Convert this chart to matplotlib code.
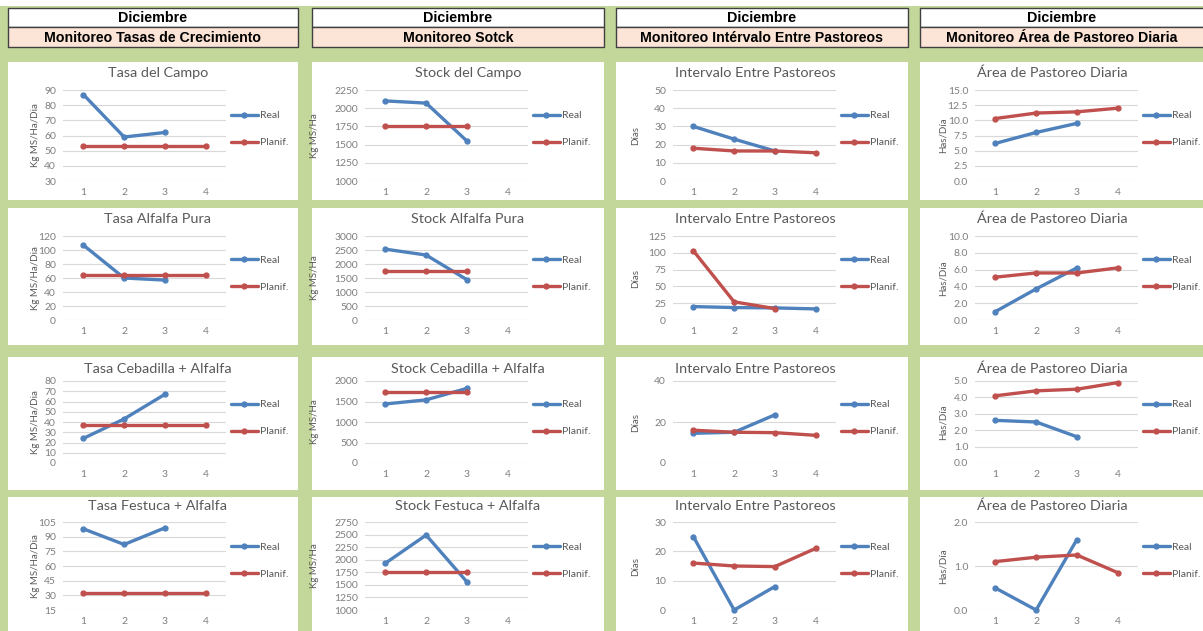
import matplotlib.pyplot as plt
from matplotlib.patches import Rectangle

W, H = 1203, 631
GREEN = '#c4d79b'
PEACH = '#fce4d6'
BLUE = '#4f81bd'
RED = '#c0504d'
GRAY = '#595959'

semanas = [1, 2, 3, 4]

meses = ['Diciembre'] * 4
encabezados = ['Monitoreo Tasas de Crecimiento', 'Monitoreo Sotck',
               'Monitoreo Intérvalo Entre Pastoreos', 'Monitoreo Área de Pastoreo Diaria']

# columna 1: tasas de crecimiento
tasa_campo_real = [87, 59, 62]
tasa_campo_plan = [53, 53, 53, 53]
tasa_alfalfa_real = [107, 60, 57]
tasa_alfalfa_plan = [65, 65, 65, 65]
tasa_cebadilla_real = [24, 43, 67]
tasa_cebadilla_plan = [37, 37, 37, 37]
tasa_festuca_real = [98, 82, 99]
tasa_festuca_plan = [32, 32, 32, 32]

# columna 2: stock
stock_campo_real = [2100, 2070, 1550]
stock_campo_plan = [1750, 1750, 1750]
stock_alfalfa_real = [2530, 2320, 1440]
stock_alfalfa_plan = [1750, 1750, 1750]
stock_cebadilla_real = [1440, 1540, 1820]
stock_cebadilla_plan = [1740, 1740, 1740]
stock_festuca_real = [1930, 2490, 1560]
stock_festuca_plan = [1760, 1760, 1760]

# columna 3: intervalo entre pastoreos
int_1_real = [30, 23, 16.5]
int_1_plan = [18, 16.5, 16.5, 15.5]
int_2_real = [20, 18.5, 18, 16.5]
int_2_plan = [103, 27, 17]
int_3_real = [14.5, 15, 23.5]
int_3_plan = [16, 15, 14.8, 13.5]
int_4_real = [25, 0, 8]
int_4_plan = [16, 15, 14.8, 21]

# columna 4: area de pastoreo diaria
area_1_real = [6.2, 8.0, 9.5]
area_1_plan = [10.3, 11.2, 11.4, 12.0]
area_2_real = [1.0, 3.7, 6.2]
area_2_plan = [5.1, 5.6, 5.6, 6.2]
area_3_real = [2.6, 2.5, 1.6]
area_3_plan = [4.1, 4.4, 4.5, 4.9]
area_4_real = [0.5, 0.0, 1.6]
area_4_plan = [1.1, 1.2, 1.25, 0.85]

# (col, fila, titulo, ylabel, real, plan, ymin, ymax, paso, formato)
paneles = [
    (0, 0, 'Tasa del Campo', 'Kg MS/Ha/Dia', tasa_campo_real, tasa_campo_plan, 30, 90, 10, '{:.0f}'),
    (0, 1, 'Tasa Alfalfa Pura', 'Kg MS/Ha/Dia', tasa_alfalfa_real, tasa_alfalfa_plan, 0, 120, 20, '{:.0f}'),
    (0, 2, 'Tasa Cebadilla + Alfalfa', 'Kg MS/Ha/Dia', tasa_cebadilla_real, tasa_cebadilla_plan, 0, 80, 10, '{:.0f}'),
    (0, 3, 'Tasa Festuca + Alfalfa', 'Kg MS/Ha/Dia', tasa_festuca_real, tasa_festuca_plan, 15, 105, 15, '{:.0f}'),
    (1, 0, 'Stock del Campo', 'Kg MS/Ha', stock_campo_real, stock_campo_plan, 1000, 2250, 250, '{:.0f}'),
    (1, 1, 'Stock Alfalfa Pura', 'Kg MS/Ha', stock_alfalfa_real, stock_alfalfa_plan, 0, 3000, 500, '{:.0f}'),
    (1, 2, 'Stock Cebadilla + Alfalfa', 'Kg MS/Ha', stock_cebadilla_real, stock_cebadilla_plan, 0, 2000, 500, '{:.0f}'),
    (1, 3, 'Stock Festuca + Alfalfa', 'Kg MS/Ha', stock_festuca_real, stock_festuca_plan, 1000, 2750, 250, '{:.0f}'),
    (2, 0, 'Intervalo Entre Pastoreos', 'Días', int_1_real, int_1_plan, 0, 50, 10, '{:.0f}'),
    (2, 1, 'Intervalo Entre Pastoreos', 'Días', int_2_real, int_2_plan, 0, 125, 25, '{:.0f}'),
    (2, 2, 'Intervalo Entre Pastoreos', 'Días', int_3_real, int_3_plan, 0, 40, 20, '{:.0f}'),
    (2, 3, 'Intervalo Entre Pastoreos', 'Días', int_4_real, int_4_plan, 0, 30, 10, '{:.0f}'),
    (3, 0, 'Área de Pastoreo Diaria', 'Has/Día', area_1_real, area_1_plan, 0, 15, 2.5, '{:.1f}'),
    (3, 1, 'Área de Pastoreo Diaria', 'Has/Día', area_2_real, area_2_plan, 0, 10, 2, '{:.1f}'),
    (3, 2, 'Área de Pastoreo Diaria', 'Has/Día', area_3_real, area_3_plan, 0, 5, 1, '{:.1f}'),
    (3, 3, 'Área de Pastoreo Diaria', 'Has/Día', area_4_real, area_4_plan, 0, 2, 1, '{:.1f}'),
]

# geometria en pixeles
col_x0 = [8, 312, 616, 920]
col_x1 = [298, 604, 908, 1210]
fila_y0 = [62, 208, 357, 497]
fila_y1 = [200, 345, 490, 640]
plot_x0 = [63, 365, 673, 975]
plot_top = [90, 236, 381, 522]
plot_bot = [181, 320, 463, 610]
titulo_x = [158, 468, 755, 1052]
titulo_y = [73, 219, 369, 506]
ylabel_x = [-0.14, -0.28, -0.2, -0.17]
plot_w = 163

plt.rcParams['font.family'] = ['Lato', 'DejaVu Sans']

fig = plt.figure(figsize=(W / 100, H / 100), dpi=100, facecolor=GREEN)


def caja(x0, y0, x1, y1, **kw):
    fig.patches.append(Rectangle((x0 / W, 1 - y1 / H), (x1 - x0) / W, (y1 - y0) / H,
                                 transform=fig.transFigure, figure=fig, zorder=-5, **kw))


caja(0, 0, W, 6, facecolor='white', edgecolor='none')

for c in range(4):
    x0, x1 = col_x0[c], col_x1[c]
    caja(x0, 8, x1, 27, facecolor='white', edgecolor='#404040', lw=1)
    caja(x0, 27, x1, 47, facecolor=PEACH, edgecolor='#404040', lw=1)
    xc = (x0 + min(x1, W)) / 2
    fig.text(xc / W, 1 - 17.5 / H, meses[c], ha='center', va='center',
             fontsize=10.3, fontweight='bold', family='Liberation Sans', color='black')
    fig.text(xc / W, 1 - 37.5 / H, encabezados[c], ha='center', va='center',
             fontsize=10.2, fontweight='bold', family='Liberation Sans', color='black')
    for r in range(4):
        caja(x0, fila_y0[r], x1, fila_y1[r], facecolor='white', edgecolor='none')

for c, r, titulo, ylab, real, plan, ymin, ymax, paso, fmt in paneles:
    top, bot = plot_top[r], plot_bot[r]
    ax = fig.add_axes([plot_x0[c] / W, 1 - bot / H, plot_w / W, (bot - top) / H])
    ax.set_facecolor('none')
    ax.plot(semanas[:len(real)], real, color=BLUE, lw=2.4, marker='o', ms=3.5, label='Real',
            solid_capstyle='round', clip_on=False)
    ax.plot(semanas[:len(plan)], plan, color=RED, lw=2.4, marker='o', ms=3.5, label='Planif.',
            solid_capstyle='round', clip_on=False)
    ax.set_xlim(0.5, 4.5)
    ax.set_ylim(ymin, ymax)
    ticks = []
    v = ymin
    while v <= ymax + 1e-9:
        ticks.append(v)
        v += paso
    ax.set_yticks(ticks)
    ax.set_yticklabels([fmt.format(t) for t in ticks])
    ax.set_xticks(semanas)
    ax.grid(axis='y', color='#d9d9d9', lw=0.8)
    ax.set_axisbelow(True)
    for s in ax.spines.values():
        s.set_visible(False)
    ax.tick_params(length=0, labelsize=7.5, colors='#7f7f7f', pad=5)
    ax.set_ylabel(ylab, fontsize=7, color=GRAY)
    ax.yaxis.set_label_coords(ylabel_x[c], 0.5)
    fig.text(titulo_x[c] / W, 1 - titulo_y[r] / H, titulo, ha='center', va='center',
             fontsize=10.4, color=GRAY)
    ax.legend(loc='upper left', bbox_to_anchor=(1.03, 0.77), frameon=False, fontsize=7.5,
              handlelength=2.6, handletextpad=0.2, labelspacing=1.7, borderaxespad=0,
              borderpad=0, labelcolor=GRAY)

fig.savefig('out.png', dpi=100, facecolor=GREEN)
